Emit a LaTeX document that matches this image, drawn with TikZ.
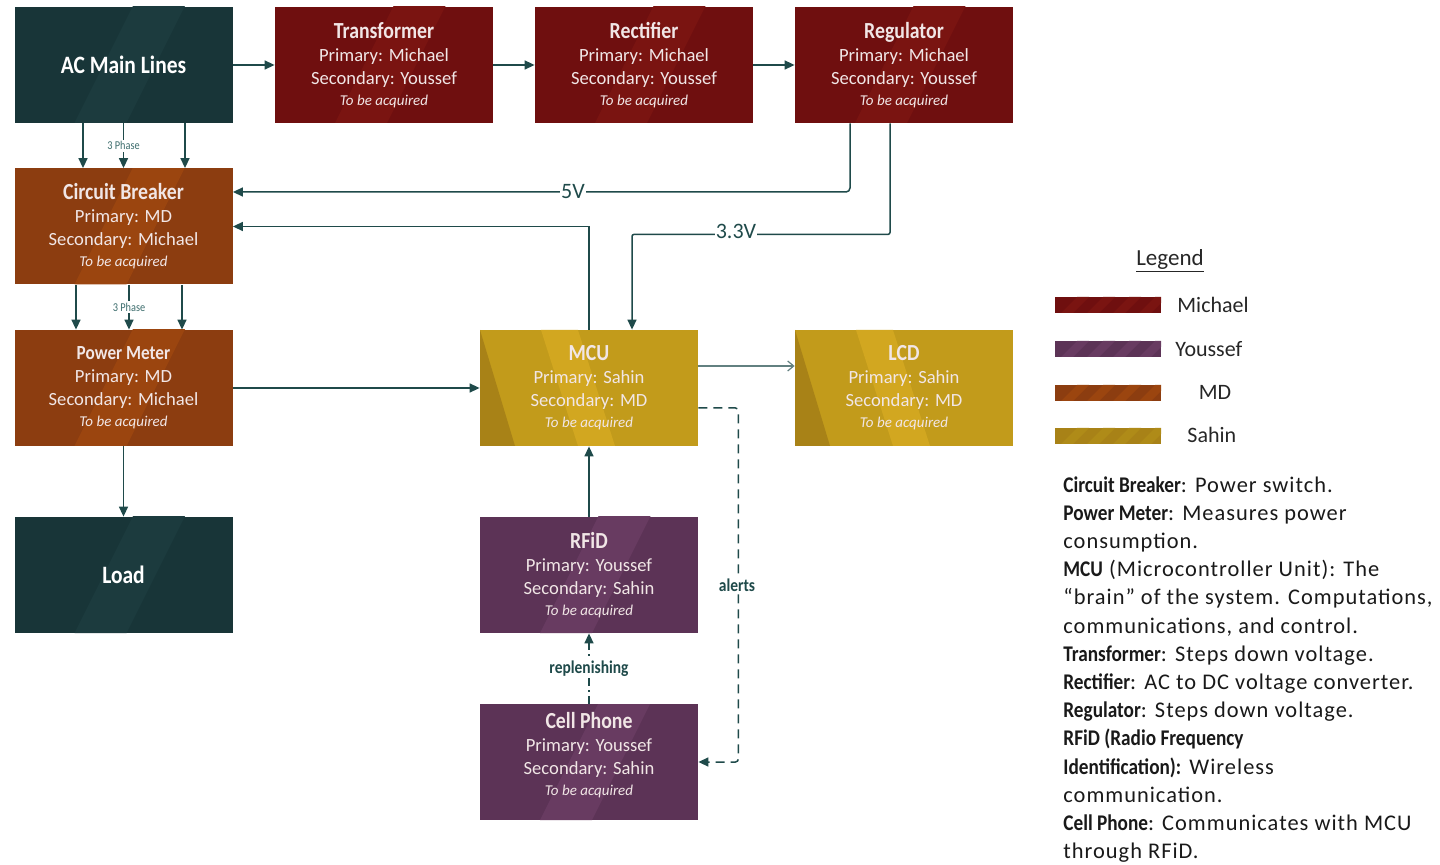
\documentclass[tikz,border=0pt]{standalone}
\usepackage{fontspec}
\setmainfont{Carlito}
\newfontfamily\condfont[FakeStretch=0.86]{Carlito}
\newfontfamily\descfont[LetterSpace=4.5]{Carlito}
\usetikzlibrary{arrows.meta,calc}
\definecolor{tealA}{HTML}{183538}
\definecolor{tealB}{HTML}{1C3B3E}
\definecolor{redA}{HTML}{6F0F0F}
\definecolor{redB}{HTML}{7A1411}
\definecolor{orA}{HTML}{8C3D10}
\definecolor{orB}{HTML}{9B450F}
\definecolor{puA}{HTML}{5C3356}
\definecolor{puB}{HTML}{683B61}
\definecolor{goA}{HTML}{C29B1B}
\definecolor{goD}{HTML}{A88217}
\definecolor{goB}{HTML}{D2A720}
\definecolor{lineC}{HTML}{1F4A4A}
\definecolor{lblC}{HTML}{3E6E6E}
\definecolor{txtC}{HTML}{F1E6E6}
\newcommand\boxstripe[1]{\fill[#1] ([xshift=30pt]path picture bounding box.south west) -- ++(26pt,0) -- ++(30pt,60pt) -- ++(-26pt,0) -- cycle;}
\newcommand\goldstripe{\fill[goD] (path picture bounding box.north west) -- (path picture bounding box.south west) -- ++(17.5pt,0) -- cycle;
\fill[goB] ([xshift=30.5pt]path picture bounding box.north west) -- ++(18.5pt,0) -- ++(18.5pt,-58pt) -- ++(-18.5pt,0) -- cycle;}
\newcommand\legstripe[1]{\foreach \i in {0,1,2,3}{\fill[#1] ([xshift=\i*13pt+3pt]path picture bounding box.south west) -- ++(6pt,0) -- ++(8pt,8pt) -- ++(-6pt,0) -- cycle;}}
\newcommand\btxt[4]{{\condfont\bfseries\fontsize{11.5}{13}\selectfont #1}\\ #2\\ #3\\[-1pt] {\itshape\fontsize{7.5}{10}\selectfont #4}}
\begin{document}
\begin{tikzpicture}[x=0.5pt,y=-0.5pt,
  box/.style={minimum width=109pt, minimum height=58pt, inner sep=0pt, align=center, text=txtC, font=\fontsize{9.3}{11.5}\selectfont},
  tealbox/.style={box, fill=tealA, path picture={\boxstripe{tealB}}, text=white},
  redbox/.style={box, fill=redA, path picture={\boxstripe{redB}}},
  orbox/.style={box, fill=orA, path picture={\boxstripe{orB}}},
  pubox/.style={box, fill=puA, path picture={\boxstripe{puB}}},
  gobox/.style={box, fill=goA, path picture={\goldstripe}},
  arr/.style={draw=lineC, line width=0.75pt, -{Triangle[length=5pt,width=4.5pt]}},
  phase/.style={fill=white, inner sep=0.8pt, text=lblC, font=\condfont\fontsize{6}{7}\selectfont},
  volt/.style={fill=white, inner sep=0.6pt, text=lineC, font=\fontsize{11}{12}\selectfont},
  flow/.style={fill=white, inner sep=1pt, text=lineC, font=\condfont\bfseries\fontsize{9}{10}\selectfont},
  legbar/.style={minimum width=53pt, minimum height=8pt, inner sep=0pt},
  legtxt/.style={font=\fontsize{11}{12}\selectfont, text=black!85, inner sep=0pt}
]
\useasboundingbox (0,0) rectangle (1440,865);
% boxes
\node[tealbox] (ac) at (123.5,65) {{\condfont\bfseries\fontsize{12.5}{14}\selectfont AC Main Lines}};
\node[redbox] (tr) at (384,65) {\btxt{Transformer}{Primary: Michael}{Secondary: Youssef}{To be acquired}};
\node[redbox] (re) at (644,65) {\btxt{Rectifier}{Primary: Michael}{Secondary: Youssef}{To be acquired}};
\node[redbox] (rg) at (904,65) {\btxt{Regulator}{Primary: Michael}{Secondary: Youssef}{To be acquired}};
\node[orbox] (cb) at (123.5,226.5) {\btxt{Circuit Breaker}{Primary: MD}{Secondary: Michael}{To be acquired}};
\node[orbox] (pm) at (123.5,388) {{\condfont\bfseries\fontsize{10}{12}\selectfont Power Meter}\\ Primary: MD\\ Secondary: Michael\\[-1pt] {\itshape\fontsize{7.5}{10}\selectfont To be acquired}};
\node[tealbox] (ld) at (123.5,575) {{\condfont\bfseries\fontsize{12.5}{14}\selectfont Load}};
\node[gobox] (mcu) at (589,388) {\btxt{MCU}{Primary: Sahin}{Secondary: MD}{To be acquired}};
\node[gobox] (lcd) at (904,388) {\btxt{LCD}{Primary: Sahin}{Secondary: MD}{To be acquired}};
\node[pubox] (rf) at (589,575) {\btxt{RFiD}{Primary: Youssef}{Secondary: Sahin}{To be acquired}};
\node[pubox] (cp) at (589,762) {\btxt{Cell Phone}{Primary: Youssef}{Secondary: Sahin}{To be acquired}\\[-3.5pt]\mbox{}};
% top chain
\draw[arr] (ac) -- (tr);
\draw[arr] (tr) -- (re);
\draw[arr] (re) -- (rg);
% 3 phase AC -> CB
\draw[arr] ([xshift=-20.25pt]ac.south) -- ([xshift=-20.25pt]ac.south |- cb.north);
\draw[arr] (ac.south) -- (ac.south |- cb.north) node[pos=0.5, phase] {3 Phase};
\draw[arr] ([xshift=30.75pt]ac.south) -- ([xshift=30.75pt]ac.south |- cb.north);
% 3 phase CB -> PM
\draw[arr] ([xshift=-23.75pt]cb.south) -- ([xshift=-23.75pt]cb.south |- pm.north);
\draw[arr] ([xshift=2.75pt]cb.south) -- ([xshift=2.75pt]cb.south |- pm.north) node[pos=0.5, phase] {3 Phase};
\draw[arr] ([xshift=29.25pt]cb.south) -- ([xshift=29.25pt]cb.south |- pm.north);
% 5V
\draw[arr, rounded corners=2pt] ([xshift=-27pt]rg.south) |- ([yshift=17.25pt]cb.east);
\node[volt] (v5) at (573,192) {5V};
% MCU -> CB
\draw[arr] (mcu.north) |- (cb.east);
% 3.3V
\draw[arr, rounded corners=1pt] ([xshift=-7pt]rg.south) -- ++(0,111) -| ([xshift=21.5pt]mcu.north);
\node[volt] (v33) at (736,231) {3.3V};
% PM -> MCU, PM -> Load
\draw[arr] (pm) -- (mcu);
\draw[arr] (pm) -- (ld);
% MCU -> LCD
\draw[draw=lineC!70, line width=0.6pt, -{Straight Barb[length=3pt,width=5pt]}] ([yshift=11pt]mcu.east) -- ([yshift=11pt]lcd.west);
% RFiD -> MCU
\draw[arr] (rf) -- (mcu);
% Cell -> RFiD
\draw[arr, dash pattern=on 4pt off 2pt on 1pt off 2pt] (cp) -- (rf) node[midway, flow] {replenishing};
% MCU -> Cell alerts
\draw[arr, dash pattern=on 4.5pt off 3pt, rounded corners=1.5pt] ([yshift=-10pt]mcu.east) -- ++(40,0) |- (cp.east);
\node[flow] (al) at (737,585) {alerts};
% legend
\node[font=\fontsize{11.5}{13}\selectfont, text=black!85] (lg) at (1170,261) {\underline{Legend}};
\node[legbar, fill=redA, path picture={\legstripe{redB}}] (l1) at (1108,305) {};
\node[legbar, fill=puA, path picture={\legstripe{puB}}] (l2) at (1108,349) {};
\node[legbar, fill=orA, path picture={\legstripe{orB}}] (l3) at (1108,393) {};
\node[legbar, fill=goD, path picture={\legstripe{goA!90!black}}] (l4) at (1108,436) {};
\node[legtxt, anchor=west] (t1) at (1177,305) {Michael};
\node[legtxt, anchor=west] (t2) at (1175,349) {Youssef};
\node[legtxt] (t3) at (1215,392) {MD};
\node[legtxt, anchor=west] (t4) at (1187,435) {Sahin};
% description
\node[anchor=north west, align=left, inner sep=0pt, text=black!90, font=\descfont\fontsize{11.2}{14.1}\selectfont] (desc) at (1063,476) {%
{\condfont\bfseries Circuit Breaker}: Power switch.\\
{\condfont\bfseries Power Meter}: Measures power\\
consumption.\\
{\condfont\bfseries MCU} (Microcontroller Unit): The\\
“brain” of the system. Computations,\\
communications, and control.\\
{\condfont\bfseries Transformer}: Steps down voltage.\\
{\condfont\bfseries Rectifier}: AC to DC voltage converter.\\
{\condfont\bfseries Regulator}: Steps down voltage.\\
{\condfont\bfseries RFiD (Radio Frequency}\\
{\condfont\bfseries Identification):} Wireless\\
communication.\\
{\condfont\bfseries Cell Phone}: Communicates with MCU\\
through RFiD.};
\end{tikzpicture}
\end{document}
